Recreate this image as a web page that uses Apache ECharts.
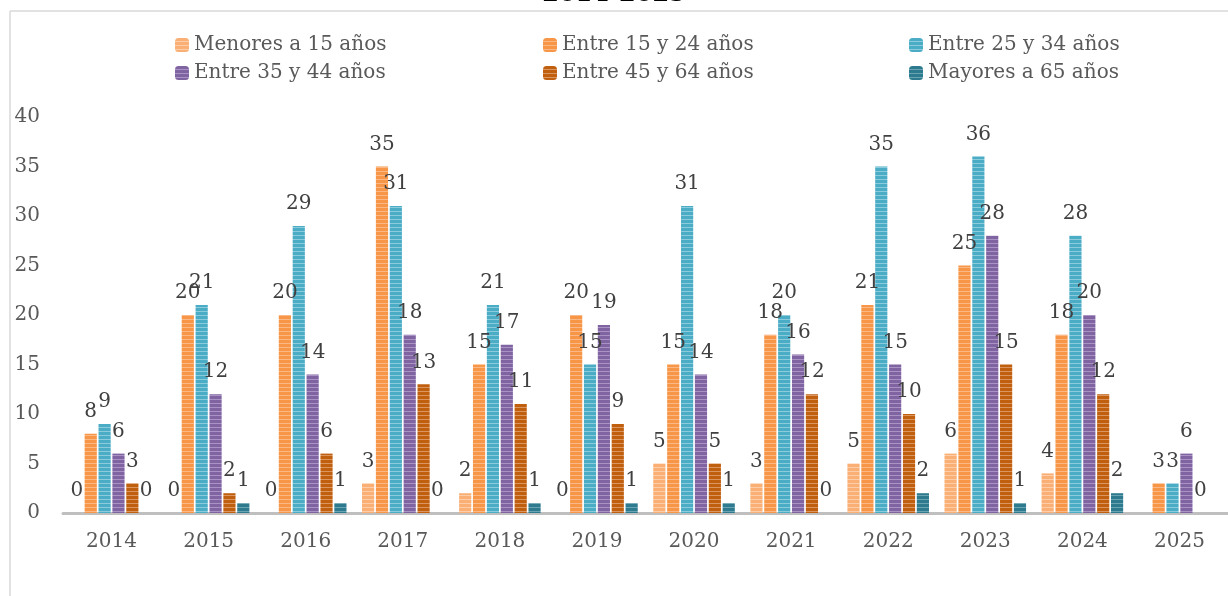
<!DOCTYPE html>
<html>
<head>
<meta charset="utf-8">
<script src="https://cdn.jsdelivr.net/npm/echarts@6/dist/echarts.min.js"></script>
<style>html,body{margin:0;padding:0;background:#fff;}#c{width:1228px;height:596px;}</style>
</head>
<body>
<div id="c"></div>
<script>
var categories = ['2014','2015','2016','2017','2018','2019','2020','2021','2022','2023','2024','2025'];
var seriesNames = ['Menores a 15 años','Entre 15 y 24 años','Entre 25 y 34 años','Entre 35 y 44 años','Entre 45 y 64 años','Mayores a 65 años'];
var menores15 = [0, 0, 0, 3, 2, 0, 5, 3, 5, 6, 4, null];
var entre15_24 = [8, 20, 20, 35, 15, 20, 15, 18, 21, 25, 18, 3];
var entre25_34 = [9, 21, 29, 31, 21, 15, 31, 20, 35, 36, 28, 3];
var entre35_44 = [6, 12, 14, 18, 17, 19, 14, 16, 15, 28, 20, 6];
var entre45_64 = [3, 2, 6, 13, 11, 9, 5, 12, 10, 15, 12, 0];
var mayores65 = [0, 1, 1, 0, 1, 1, 1, 0, 2, 1, 2, null];
var yTicks = {min: 0, max: 40, interval: 5};

var baseColors = ['#FAAF74', '#F79646', '#4BACC6', '#8064A2', '#C0600F', '#2E7A8E'];
var stripeColors = ['#FCCDA8', '#FAB887', '#8CCBDC', '#A993C4', '#DB9560', '#6AA3B2'];

function pattern(base, stripe) {
  var cv = document.createElement('canvas');
  cv.width = 4; cv.height = 4;
  var ctx = cv.getContext('2d');
  ctx.fillStyle = base; ctx.fillRect(0, 0, 4, 4);
  ctx.fillStyle = stripe; ctx.fillRect(0, 3, 4, 1);
  return {image: cv, repeat: 'repeat'};
}

var allData = [menores15, entre15_24, entre25_34, entre35_44, entre45_64, mayores65];
var FONT = 'DejaVu Serif';

var series = seriesNames.map(function (n, i) {
  return {
    name: n,
    type: 'bar',
    data: allData[i],
    barGap: '14%',
    barCategoryGap: '16%',
    itemStyle: {color: pattern(baseColors[i], stripeColors[i])},
    label: {show: true, position: 'top', distance: 12, color: '#404040', fontFamily: FONT, fontSize: 20},
    animation: false
  };
});

var legendPos = [[170, 30], [538, 30], [904, 30], [170, 58], [538, 58], [904, 58]];
var legends = seriesNames.map(function (n, i) {
  return {
    data: [n], left: legendPos[i][0], top: legendPos[i][1],
    itemWidth: 14, itemHeight: 14, itemGap: 0,
    textStyle: {color: '#595959', fontFamily: FONT, fontSize: 20, padding: [0, 0, 0, 0]},
    selectedMode: false
  };
});

var chart = echarts.init(document.getElementById('c'), null, {renderer: 'canvas'});
chart.setOption({
  animation: false,
  backgroundColor: '#fff',
  title: {text: '2014-2025', left: 'center', top: -17, padding: 0, textStyle: {fontFamily: FONT, fontSize: 24, fontWeight: 'bold', color: '#000'}},
  legend: legends,
  grid: {left: 63, right: -10, top: 117, bottom: 83, containLabel: false},
  xAxis: {
    type: 'category', data: categories,
    axisLine: {lineStyle: {color: '#BFBFBF', width: 3}},
    axisTick: {show: false},
    axisLabel: {color: '#595959', fontFamily: FONT, fontSize: 20, margin: 19}
  },
  yAxis: {
    type: 'value', min: yTicks.min, max: yTicks.max, interval: yTicks.interval,
    axisLine: {show: false}, axisTick: {show: false}, splitLine: {show: false},
    axisLabel: {color: '#595959', fontFamily: FONT, fontSize: 20, margin: 23}
  },
  graphic: [
    {type: 'line', shape: {x1: 10, y1: 11, x2: 1228, y2: 11}, style: {stroke: '#D9D9D9', lineWidth: 1.5}, silent: true, z: -1},
    {type: 'line', shape: {x1: 10, y1: 11, x2: 10, y2: 596}, style: {stroke: '#D9D9D9', lineWidth: 1.5}, silent: true, z: -1}
  ],
  series: series
});
</script>
</body>
</html>
